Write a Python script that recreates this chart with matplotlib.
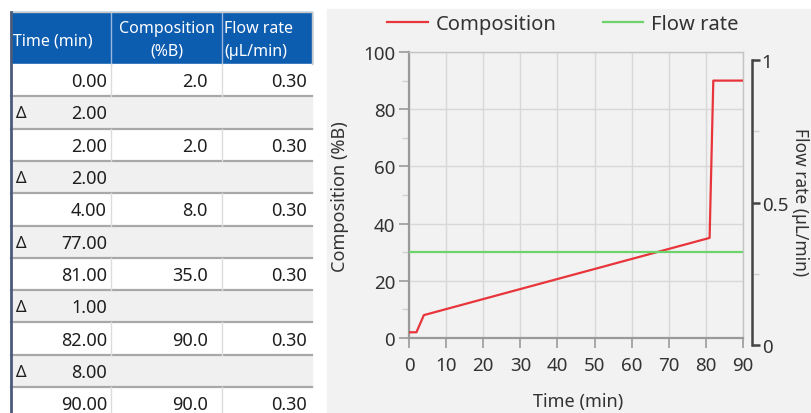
import matplotlib
matplotlib.use("Agg")
import matplotlib.pyplot as plt
from matplotlib.patches import Rectangle
from matplotlib.ticker import MultipleLocator, FixedLocator

plt.rcParams['font.family'] = ['Noto Sans', 'DejaVu Sans']

# gradient table
time_min = [0.00, 2.00, 4.00, 81.00, 82.00, 90.00]
composition = [2.0, 2.0, 8.0, 35.0, 90.0, 90.0]
flow_rate = [0.30, 0.30, 0.30, 0.30, 0.30, 0.30]
delta_min = [2.00, 2.00, 77.00, 1.00, 8.00]
headers = ["Time (min)", "Composition\n(%B)", "Flow rate\n(µL/min)"]

W, H = 812, 414
fig = plt.figure(figsize=(W / 100, H / 100), dpi=100)

# background layer in pixel coordinates
bg = fig.add_axes([0, 0, 1, 1])
bg.set_xlim(0, W)
bg.set_ylim(H, 0)
bg.axis('off')

# ---- table ----
col_x = [11, 111, 222, 312]
head_top, head_bot = 13, 65
row_h = 32.3
blue = '#0c5cb0'
txt = '#1e1e1e'

bg.add_patch(Rectangle((col_x[0], head_top), col_x[-1] - col_x[0], head_bot - head_top,
                       color=blue, zorder=1))
for x in col_x[1:-1]:
    bg.plot([x, x], [head_top, head_bot], color='#9ab7dd', lw=1, zorder=2)
bg.plot([col_x[-1], col_x[-1]], [head_top, head_bot], color='#c8c8c8', lw=1, zorder=2)
bg.plot([col_x[0], col_x[-1]], [head_top, head_top], color='#c8c8c8', lw=1, zorder=2)

bg.text(col_x[0] + 2, 42, headers[0], color='white', fontsize=11.5,
        va='center', ha='left', zorder=3)
h1 = headers[1].split("\n")
bg.text((col_x[1] + col_x[2]) / 2, 29, h1[0], color='white', fontsize=11.5,
        va='center', ha='center', zorder=3)
bg.text((col_x[1] + col_x[2]) / 2, 52, h1[1], color='white', fontsize=11.5,
        va='center', ha='center', zorder=3)
h2 = headers[2].split("\n")
bg.text(col_x[2] + 2, 29, h2[0], color='white', fontsize=11.5,
        va='center', ha='left', zorder=3)
bg.text(col_x[2] + 2, 52, h2[1], color='white', fontsize=11.5,
        va='center', ha='left', zorder=3)

rows = []
for i in range(len(time_min)):
    rows.append(('data', i))
    if i < len(delta_min):
        rows.append(('delta', i))

for k, (kind, i) in enumerate(rows):
    y0 = head_bot + k * row_h
    yc = y0 + row_h / 2 + 1
    face = 'white' if kind == 'data' else '#f0f0f0'
    bg.add_patch(Rectangle((col_x[0], y0), col_x[-1] - col_x[0], row_h, color=face, zorder=1))
    bg.plot([col_x[0], col_x[-1]], [y0 + row_h, y0 + row_h], color='#a8a8a8', lw=1.6, zorder=2)
    if kind == 'data':
        for x in col_x[1:-1]:
            bg.plot([x, x], [y0, y0 + row_h], color='#dcdcdc', lw=1, zorder=2)
        bg.text(col_x[1] - 4, yc, f"{time_min[i]:.2f}", fontsize=13, color=txt,
                ha='right', va='center', zorder=3)
        bg.text(col_x[2] - 14, yc, f"{composition[i]:.1f}", fontsize=13, color=txt,
                ha='right', va='center', zorder=3)
        bg.text(col_x[3] - 5, yc, f"{flow_rate[i]:.2f}", fontsize=13, color=txt,
                ha='right', va='center', zorder=3)
    else:
        bg.text(col_x[0] + 5, yc, "Δ", fontsize=12, color=txt, ha='left', va='center', zorder=3)
        bg.text(col_x[1] - 4, yc, f"{delta_min[i]:.2f}", fontsize=13, color=txt,
                ha='right', va='center', zorder=3)

bg.plot([col_x[0], col_x[0]], [head_top, H], color='#4a5b7c', lw=2, zorder=4)

# ---- chart panel ----
panel = '#f2f2f2'
bg.add_patch(Rectangle((327, 10), W - 327, H - 10, color=panel, zorder=0))

red = '#e8353b'
green = '#6dd36a'
grey = '#9a9a9a'
tc = '#333333'

ax = fig.add_axes([409 / W, 1 - 339 / H, 334 / W, 286 / H])
ax.set_facecolor(panel)
ax.plot(time_min, composition, color=red, lw=1.6, zorder=3, label='Composition')
ax.set_xlim(0, 90)
ax.set_ylim(0, 100)
ax.xaxis.set_major_locator(MultipleLocator(10))
ax.yaxis.set_major_locator(MultipleLocator(20))
ax.yaxis.set_minor_locator(MultipleLocator(10))
ax.grid(True, which='major', color='#d8d8d8', lw=1, zorder=0)
for s in ['top', 'right']:
    ax.spines[s].set_color('#c4c4c4')
    ax.spines[s].set_linewidth(1)
for s in ['left', 'bottom']:
    ax.spines[s].set_color(grey)
    ax.spines[s].set_linewidth(1.6)
ax.tick_params(which='major', length=7, width=1.2, color=grey, labelsize=13.5,
               labelcolor=tc, pad=3)
ax.tick_params(axis='x', pad=6)
ax.tick_params(which='minor', length=5, width=1, color='#d0d0d0')
ax.set_xlabel('Time (min)', fontsize=13, color=tc)
ax.set_ylabel('Composition (%B)', fontsize=13, color=tc)
ax.xaxis.set_label_coords(0.506, -0.19)
ax.yaxis.set_label_coords(-0.18, 0.497)

ax2 = ax.twinx()
ax2.plot(time_min, flow_rate, color=green, lw=1.6, zorder=3, label='Flow rate')
ax2.set_ylim(0, 1)
ax2.axis('off')

# right flow-rate scale
ax3 = fig.add_axes([409 / W, 1 - 346 / H, 334 / W, 285 / H])
ax3.patch.set_visible(False)
for s in ['top', 'left', 'bottom']:
    ax3.spines[s].set_visible(False)
ax3.spines['right'].set_position(('outward', 6.5))
ax3.spines['right'].set_color('#444444')
ax3.spines['right'].set_linewidth(1.8)
ax3.set_xticks([])
ax3.set_ylim(0, 1)
ax3.yaxis.tick_right()
ax3.yaxis.set_label_position('right')
ax3.set_yticks([0, 0.5, 1])
ax3.set_yticklabels(['0', '0.5', '1'])
ax3.yaxis.set_minor_locator(FixedLocator([0.25, 0.75]))
ax3.tick_params(which='major', length=6, width=1.8, color='#444444', labelsize=13.5,
                labelcolor=tc, pad=1)
ax3.tick_params(which='minor', length=5, width=1, color='#d0d0d0')
ax3.set_ylabel('Flow rate (µL/min)', fontsize=12.5, color=tc, rotation=270, va='center')
ax3.yaxis.set_label_coords(1.17, 0.505)

h1_, l1_ = ax.get_legend_handles_labels()
h2_, l2_ = ax2.get_legend_handles_labels()
fig.legend(h1_ + h2_, l1_ + l2_, loc='center', bbox_to_anchor=(563 / W, 1 - 25 / H),
           ncol=2, frameon=False, fontsize=14.5, handlelength=2.0, handletextpad=0.4,
           columnspacing=2.3, labelcolor=tc)

fig.savefig('out.png', dpi=100)
